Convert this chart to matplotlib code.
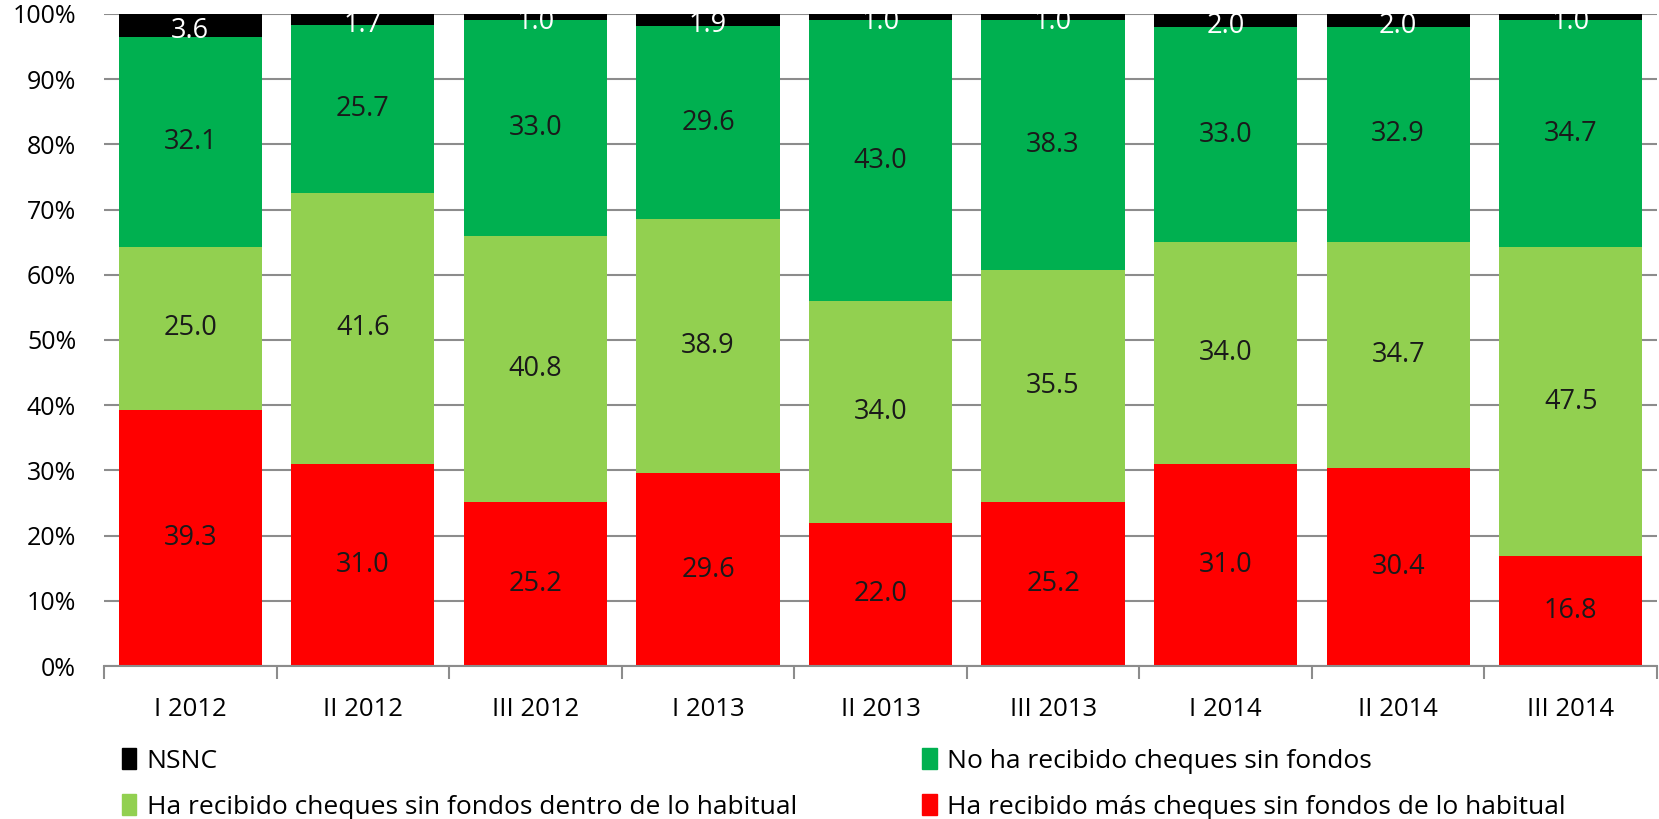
import matplotlib
matplotlib.use("Agg")
import matplotlib.pyplot as plt
from matplotlib.patches import Patch
import numpy as np

# datos
periodos = ["I 2012", "II 2012", "III 2012", "I 2013", "II 2013",
            "III 2013", "I 2014", "II 2014", "III 2014"]
mas_habitual = [39.3, 31.0, 25.2, 29.6, 22.0, 25.2, 31.0, 30.4, 16.8]
dentro_habitual = [25.0, 41.6, 40.8, 38.9, 34.0, 35.5, 34.0, 34.7, 47.5]
no_recibido = [32.1, 25.7, 33.0, 29.6, 43.0, 38.3, 33.0, 32.9, 34.7]
nsnc = [3.6, 1.7, 1.0, 1.9, 1.0, 1.0, 2.0, 2.0, 1.0]

series = [
    ("Ha recibido más cheques sin fondos de lo habitual", mas_habitual, "#FF0000", "#1a1a1a"),
    ("Ha recibido cheques sin fondos dentro de lo habitual", dentro_habitual, "#92D050", "#1a1a1a"),
    ("No ha recibido cheques sin fondos", no_recibido, "#00B050", "#1a1a1a"),
    ("NSNC", nsnc, "#000000", "white"),
]

plt.rcParams['font.family'] = ['Open Sans', 'DejaVu Sans']

fig = plt.figure(figsize=(16.59, 8.19), dpi=100)
ax = fig.add_axes([0.0627, 0.1868, 0.9361, 0.7962])

x = np.arange(len(periodos))
bottom = np.zeros(len(periodos))
for name, vals, color, tcolor in series:
    vals = np.array(vals)
    ax.bar(x, vals, width=0.83, bottom=bottom, color=color, zorder=2)
    for xi, b, v in zip(x, bottom, vals):
        yc = b + v / 2
        if v < 5:
            yc = b + v / 2 - 0.8
        ax.text(xi, yc, f"{v:.1f}", ha='center', va='center',
                fontsize=19.5, color=tcolor, zorder=3)
    bottom += vals

ax.set_xlim(-0.5, len(periodos) - 0.5)
ax.set_ylim(0, 100)
ax.set_yticks(np.arange(0, 101, 10))
ax.set_yticklabels([f"{v}%" for v in range(0, 101, 10)], fontsize=18)
ax.yaxis.grid(True, color='#8c8c8c', linewidth=1.5, zorder=0)
ax.set_axisbelow(True)
ax.tick_params(axis='y', length=0, pad=20)

ax.set_xticks(x)
ax.set_xticklabels(periodos, fontsize=18.5)
ax.set_xticks(np.arange(-0.5, len(periodos), 1), minor=True)
ax.tick_params(axis='x', which='major', length=0, pad=22)
ax.tick_params(axis='x', which='minor', length=9, width=1.5, color='#8c8c8c')

for s in ['top', 'right', 'left']:
    ax.spines[s].set_visible(False)
ax.spines['bottom'].set_color('#8c8c8c')
ax.spines['bottom'].set_linewidth(1.5)

# leyenda: NSNC, dentro | No ha recibido, más
handles = [Patch(color=series[3][2], label=series[3][0]),
           Patch(color=series[1][2], label=series[1][0]),
           Patch(color=series[2][2], label=series[2][0]),
           Patch(color=series[0][2], label=series[0][0])]
fig.legend(handles=handles, ncol=2, loc='upper left',
           bbox_to_anchor=(0.067, 0.099), frameon=False, fontsize=19,
           handlelength=0.55, handleheight=0.8, handletextpad=0.4,
           columnspacing=4.75, labelspacing=0.78, borderaxespad=0)

fig.savefig("out.png", dpi=100)
